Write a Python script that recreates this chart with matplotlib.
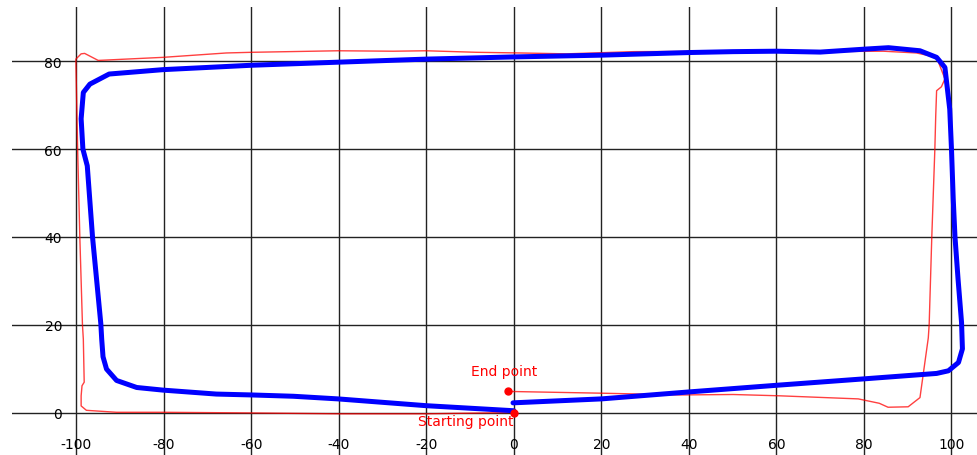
import matplotlib
matplotlib.use("Agg")
import matplotlib.pyplot as plt

# Estimated trajectory (blue)
blue_x = [0, -20, -40.2, -50.4, -60, -68, -80.2, -86.2, -90.8, -93.1, -93.9, -94.2,
          -94.4, -96.3, -97.5, -98.5, -98.9, -98.4, -96.9, -92.5, -80.2, -60, -40.2,
          -20, 0, 20, 40.2, 50.1, 60, 70, 80.6, 85.6, 92.8, 96.6, 98.5, 99.6, 100.0,
          100.4, 100.8, 101.5, 102.3, 102.5, 101.6, 99.3, 96.6, 80.5, 60, 40.2, 20, -0.2]
blue_y = [0.4, 1.55, 3.1, 3.7, 4.0, 4.2, 5.1, 5.7, 7.3, 9.9, 12.7, 16.7,
          20.2, 40, 56.2, 60, 66.9, 72.9, 74.8, 77.1, 78.1, 79.1, 79.8,
          80.5, 81.0, 81.4, 82.0, 82.2, 82.3, 82.1, 82.8, 83.1, 82.4, 80.9, 78.6, 69.1, 60,
          48.6, 40, 30.4, 20.5, 14.5, 11.4, 9.5, 8.9, 7.7, 6.2, 4.7, 3.1, 2.2]

# Reference trajectory (red)
red_x = [0, -20, -40, -60, -80, -90.8, -96.2, -97.7, -98.9, -98.9, -98.7, -98.2, -98.4,
         -98.6, -99.2, -99.7, -100.1, -100.1, -98.9, -98.1, -95, -80.2, -65.7, -60, -40.2,
         -27.6, -20, -8.5, 1.4, 12, 27.3, 50, 70, 84.4, 92, 96.6, 98.5, 97.7, 96.6,
         96.4, 96.2, 95.5, 94.9, 94.7, 92.8, 90.1, 85.5, 83.5, 78.7, 60.8, 50.1, 37.9, 20, -1.3]
red_y = [0, -0.3, -0.3, -0.1, 0.05, 0.05, 0.4, 0.5, 1.5, 3.8, 6.1, 6.9, 16.7,
         20, 40, 60, 79.8, 80.5, 81.7, 81.8, 80.2, 80.9, 81.9, 82.05, 82.4,
         82.3, 82.4, 82.05, 81.9, 81.7, 82.2, 82.3, 82.2, 82.3, 81.9, 80.9, 76, 74.2, 73.3,
         67.6, 60, 40, 20, 17, 3.4, 1.3, 1.2, 2.1, 3.1, 3.8, 4.1, 4.0, 4.4, 4.8]

start_pt = (0, 0)
end_pt = (-1.3, 4.8)
start_label = ("Starting point", -11, -1.9)
end_label = ("End point", -2.2, 9.5)

x_ticks = [-100, -80, -60, -40, -20, 0, 20, 40, 60, 80, 100]
y_ticks = [0, 20, 40, 60, 80]

W, H, DPI = 978, 456, 100
fig = plt.figure(figsize=(W / DPI, H / DPI), dpi=DPI)
ax = fig.add_axes([12 / W, 0, (W - 12) / W, (H - 8) / H])
ax.set_xlim(-114.7, 106.06)
ax.set_ylim(-9.68, 92.37)
for s in ax.spines.values():
    s.set_visible(False)

ax.set_xticks(x_ticks)
ax.set_yticks(y_ticks)
ax.set_xticklabels([str(v) for v in x_ticks])
ax.set_yticklabels([str(v) for v in y_ticks])
ax.tick_params(axis='both', length=0, labelsize=10, colors='black')
ax.tick_params(axis='y', pad=-36)
ax.tick_params(axis='x', pad=-13)
ax.grid(True, color='#222222', linewidth=1.0)
ax.set_axisbelow(True)

ax.plot(red_x, red_y, color='red', lw=1.0, alpha=0.75, zorder=2)
ax.plot(blue_x, blue_y, color='blue', lw=3.6, zorder=3, solid_capstyle='round',
        solid_joinstyle='round')
ax.plot(*end_pt, 'o', color='red', ms=5, zorder=4)
ax.plot(*start_pt, 'o', color='red', ms=5, zorder=4)
ax.text(end_label[1], end_label[2], end_label[0], color='red', fontsize=10,
        ha='center', va='center', zorder=5)
ax.text(start_label[1], start_label[2], start_label[0], color='red', fontsize=10,
        ha='center', va='center', zorder=5)

fig.savefig("out.png", dpi=DPI)
